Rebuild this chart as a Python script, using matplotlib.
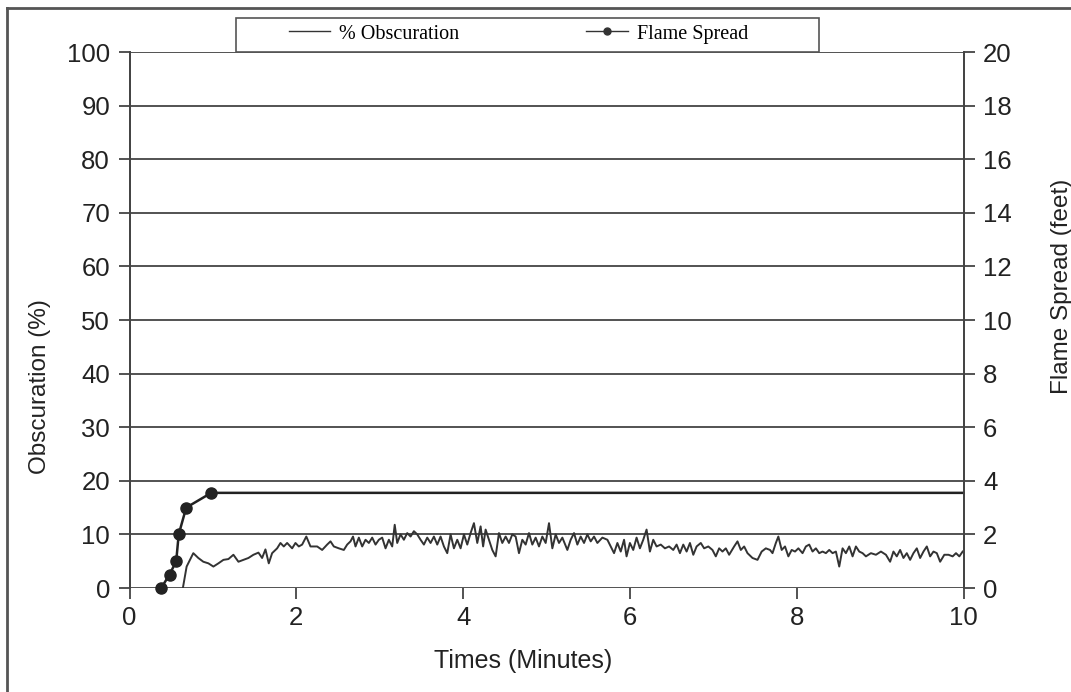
import matplotlib
matplotlib.use('Agg')
import matplotlib.pyplot as plt
from matplotlib.lines import Line2D
from matplotlib.patches import Rectangle

plt.rcParams['font.family'] = 'Liberation Sans'

# % obscuration (left axis)
obs_t1 = [0.64, 0.685, 0.765, 0.825, 0.885, 0.946, 1.006, 1.066, 1.126, 1.186, 1.246, 1.306,
          1.366, 1.426, 1.486, 1.546, 1.59, 1.63, 1.67, 1.71, 1.77, 1.81, 1.85, 1.89, 1.95,
          1.99, 2.03, 2.07, 2.12, 2.17, 2.25, 2.31, 2.37, 2.41, 2.45, 2.51, 2.57, 2.61, 2.65,
          2.68, 2.71, 2.75, 2.79, 2.83, 2.87, 2.91, 2.95, 2.99]
obs_v1 = [0, 4.0, 6.5, 5.6, 4.9, 4.6, 4.0, 4.6, 5.25, 5.4, 6.2, 4.9,
          5.25, 5.6, 6.2, 6.6, 5.6, 7.2, 4.6, 6.5, 7.4, 8.4, 7.75, 8.4, 7.4,
          8.4, 7.75, 8.1, 9.6, 7.75, 7.75, 7.1, 8.1, 8.7, 7.75, 7.4, 7.1, 8.1, 8.7,
          9.6, 7.75, 9.4, 7.75, 9.0, 8.4, 9.4, 8.1, 9.0]
obs_t2 = [3.03, 3.07, 3.11, 3.15, 3.18, 3.21, 3.25, 3.29, 3.33, 3.37, 3.41, 3.45, 3.49,
          3.53, 3.57, 3.61, 3.65, 3.69, 3.73, 3.77, 3.81, 3.85, 3.89, 3.93, 3.97, 4.01,
          4.05, 4.09, 4.13, 4.17, 4.21, 4.24, 4.27, 4.31, 4.35, 4.39, 4.43, 4.47, 4.51,
          4.55, 4.59, 4.63, 4.67, 4.71, 4.75, 4.79, 4.83, 4.87, 4.91, 4.95, 4.99, 5.03,
          5.07, 5.11, 5.15, 5.19, 5.25]
obs_v2 = [9.4, 7.4, 9.0, 7.75, 11.8, 8.4, 10.0, 9.0, 10.25, 9.6, 10.6, 10.0, 9.0,
          8.1, 9.4, 8.4, 9.6, 8.1, 9.6, 7.75, 6.5, 10.0, 7.4, 9.0, 7.4, 10.0,
          8.1, 10.25, 12.1, 8.4, 11.5, 7.75, 10.9, 9.0, 7.1, 5.9, 10.25, 8.4, 9.6,
          8.4, 10.0, 9.6, 6.5, 9.0, 8.1, 10.25, 8.1, 9.4, 7.75, 9.6, 8.4, 12.1,
          7.4, 10.0, 8.4, 9.4, 7.1]
obs_t3 = [5.29, 5.33, 5.37, 5.41, 5.45, 5.49, 5.53, 5.57, 5.61, 5.67, 5.73, 5.77, 5.81,
          5.85, 5.89, 5.93, 5.96, 6.0, 6.04, 6.08, 6.12, 6.16, 6.2, 6.24, 6.28, 6.32,
          6.37, 6.42, 6.47, 6.52, 6.56, 6.6, 6.64, 6.68, 6.72, 6.76, 6.8, 6.85, 6.89,
          6.94, 6.99, 7.03, 7.07, 7.11, 7.15, 7.19, 7.25, 7.29, 7.33, 7.37, 7.41, 7.47,
          7.53, 7.58, 7.63, 7.68]
obs_v3 = [9.0, 10.25, 8.1, 9.6, 8.4, 10.0, 8.7, 9.6, 8.4, 9.4, 9.0, 7.75, 6.5,
          8.4, 6.8, 9.0, 5.9, 8.4, 7.1, 9.4, 7.4, 9.0, 10.9, 6.8, 9.0, 7.75,
          8.1, 7.4, 7.75, 7.1, 8.1, 6.5, 8.1, 6.8, 8.4, 6.2, 7.75, 8.4, 7.4,
          7.75, 7.1, 5.9, 7.4, 6.8, 7.4, 6.2, 7.75, 8.7, 7.1, 7.75, 6.5, 5.6,
          5.25, 6.8, 7.4, 7.1]
obs_t4 = [7.71, 7.75, 7.78, 7.82, 7.86, 7.9, 7.94, 7.98, 8.02, 8.07, 8.11, 8.15, 8.19,
          8.23, 8.27, 8.31, 8.35, 8.39, 8.43, 8.47, 8.51, 8.55, 8.59, 8.63, 8.67, 8.71,
          8.75, 8.79, 8.83, 8.89, 8.95, 9.01, 9.07, 9.12, 9.16, 9.2, 9.24, 9.28, 9.32,
          9.36, 9.4, 9.44, 9.48, 9.52, 9.56, 9.6, 9.64, 9.68, 9.72, 9.77, 9.82, 9.87,
          9.91, 9.95, 9.99]
obs_v4 = [6.5, 8.4, 9.6, 7.1, 7.75, 5.9, 7.1, 6.8, 7.4, 6.5, 7.75, 8.1, 6.8,
          7.4, 6.5, 6.8, 6.5, 7.1, 6.5, 6.8, 4.0, 7.4, 6.5, 7.75, 5.9, 7.75,
          6.8, 6.5, 5.9, 6.5, 6.2, 6.8, 6.2, 4.9, 6.8, 5.9, 7.1, 5.6, 6.5,
          5.25, 6.5, 7.4, 5.6, 6.8, 7.75, 5.9, 6.8, 6.5, 4.9, 6.2, 6.2, 5.9,
          6.5, 5.9, 6.8]

obs_t = obs_t1 + obs_t2 + obs_t3 + obs_t4
obs_v = obs_v1 + obs_v2 + obs_v3 + obs_v4

# flame spread in feet (right axis)
flame_t = [0.38, 0.48, 0.56, 0.59, 0.68, 0.98, 10.0]
flame_ft = [0, 0.5, 1.0, 2.0, 3.0, 3.55, 3.55]
n_measured = 6

x_ticks = [0, 2, 4, 6, 8, 10]
left_ticks = list(range(0, 101, 10))
right_ticks = list(range(0, 21, 2))

W, H = 1071, 692
fig = plt.figure(figsize=(W / 100, H / 100), dpi=100)
ax = fig.add_axes([129.5 / W, 1 - 588 / H, 834 / W, 536 / H])
ax2 = ax.twinx()

ink = '#333333'
ax.plot(obs_t, obs_v, color=ink, lw=1.4)
ax2.plot(flame_t, flame_ft, color='#222222', lw=1.8, marker='o', ms=8,
         markevery=list(range(n_measured)), clip_on=False)

ax.set_xlim(0, 10)
ax.set_ylim(0, 100)
ax2.set_ylim(0, 20)
ax.set_xticks(x_ticks)
ax.set_yticks(left_ticks)
ax2.set_yticks(right_ticks)

ax.yaxis.grid(True, color='#444444', lw=1.3)
ax.set_axisbelow(True)
for a in (ax, ax2):
    for s in ('top', 'bottom'):
        a.spines[s].set_visible(False)
    for s in ('left', 'right'):
        a.spines[s].set_color('#444444')
        a.spines[s].set_linewidth(1.3)
    a.tick_params(direction='out', length=8, width=1.3, color='#444444',
                  labelsize=18.5, labelcolor='#222222', pad=6)
ax.tick_params(axis='x', pad=5)

fig.text(40 / W, 1 - 387 / H, 'Obscuration (%)', rotation=90, ha='center', va='center',
         fontsize=17.5, color='#222222')
fig.text(1062 / W, 1 - 286 / H, 'Flame Spread (feet)', rotation=90, ha='center', va='center',
         fontsize=17.5, color='#222222')
fig.text(523 / W, 1 - 661 / H, 'Times (Minutes)', ha='center', va='center',
         fontsize=18, color='#222222')

# legend box on top of the plot
fig.add_artist(Rectangle((236 / W, 1 - 52 / H), 583 / W, 34 / H, transform=fig.transFigure,
                         fill=False, edgecolor='#555555', lw=1.2))
handles = [Line2D([], [], color=ink, lw=1),
           Line2D([], [], color=ink, lw=1, marker='o', ms=5)]
fig.legend(handles, ['% Obscuration', 'Flame Spread'], loc='center left',
           bbox_to_anchor=(289 / W, 1 - 34 / H), ncol=2, frameon=False, borderpad=0,
           borderaxespad=0, handlelength=2.05, handletextpad=0.45, columnspacing=6.3,
           prop={'family': 'Liberation Serif', 'size': 14.5})

# page frame (left and top edges)
fig.add_artist(Line2D([7 / W, 7 / W], [0, 1 - 8 / H], transform=fig.transFigure,
                      color='#555555', lw=2))
fig.add_artist(Line2D([7 / W, 1], [1 - 8 / H, 1 - 8 / H], transform=fig.transFigure,
                      color='#555555', lw=2))

fig.savefig('out.png', dpi=100)
